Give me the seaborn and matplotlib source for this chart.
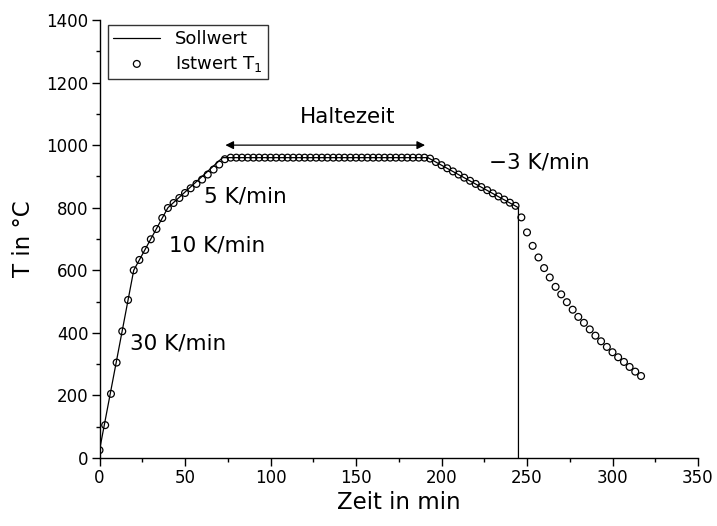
import matplotlib
matplotlib.use("Agg")
import matplotlib.pyplot as plt
import seaborn as sns
import pandas as pd

# Sollwert (setpoint) profile
soll_t = [0, 20, 40, 72, 192, 245, 245]
soll_T = [25, 600, 800, 960, 960, 800, 0]

# Istwert T1 (measured) points
ist_t = [0, 3.3, 6.7, 10, 13.3, 16.7, 20, 23.3, 26.7, 30, 33.3, 36.7, 40, 43.3, 46.7,
         50, 53.3, 56.7, 60, 63.3, 66.7, 70, 73.3, 76.7, 80, 83.3, 86.7, 90, 93.3, 96.7,
         100, 103.3, 106.7, 110, 113.3, 116.7, 120, 123.3, 126.7, 130, 133.3, 136.7, 140,
         143.3, 146.7, 150, 153.3, 156.7, 160, 163.3, 166.7, 170, 173.3, 176.7, 180, 183.3,
         186.7, 190, 193.3, 196.7, 200, 203.3, 206.7, 210, 213.3, 216.7, 220, 223.3, 226.7,
         230, 233.3, 236.7, 240, 243.3, 246.7, 250, 253.3, 256.7, 260, 263.3, 266.7, 270,
         273.3, 276.7, 280, 283.3, 286.7, 290, 293.3, 296.7, 300, 303.3, 306.7, 310, 313.3,
         316.7]
ist_T = [25, 105, 205, 305, 405, 505, 600, 633, 665, 699, 732, 767, 799, 815, 831,
         847, 862, 876, 890, 906, 922, 938, 955, 960, 960, 960, 960, 960, 960, 960,
         960, 960, 960, 960, 960, 960, 960, 960, 960, 960, 960, 960, 960,
         960, 960, 960, 960, 960, 960, 960, 960, 960, 960, 960, 960, 960,
         960, 960, 957, 946, 936, 926, 916, 906, 896, 886, 876, 866, 856,
         846, 836, 826, 816, 806, 769, 721, 678, 641, 607, 577, 547, 523,
         498, 474, 451, 432, 411, 391, 373, 355, 338, 322, 307, 291, 276,
         262]

xticks = [0, 50, 100, 150, 200, 250, 300, 350]
yticks = [0, 200, 400, 600, 800, 1000, 1200, 1400]

sns.set_theme(style="ticks")
plt.rcParams["font.family"] = ["DejaVu Sans"]
plt.rcParams["mathtext.fontset"] = "dejavusans"
plt.rcParams["text.color"] = "black"
plt.rcParams["axes.labelcolor"] = "black"
plt.rcParams["xtick.color"] = "black"
plt.rcParams["ytick.color"] = "black"

fig = plt.figure(figsize=(7.17, 5.26), dpi=100)
ax = fig.add_axes([0.1388, 0.1293, 0.8347, 0.8327])

soll = pd.DataFrame({"t": soll_t, "T": soll_T})
ist = pd.DataFrame({"t": ist_t, "T": ist_T})

sns.lineplot(data=soll, x="t", y="T", ax=ax, color="black", linewidth=0.9,
             sort=False, estimator=None, label="Sollwert")
sns.scatterplot(data=ist, x="t", y="T", ax=ax, marker="o", s=24,
                facecolor="none", edgecolor="black", linewidth=0.9,
                label="Istwert T$_\\mathrm{1}$")

ax.set_xlim(0, 350)
ax.set_ylim(0, 1400)
ax.set_xticks(xticks)
ax.set_yticks(yticks)
ax.set_xticks([25, 75, 125, 175, 225, 275, 325], minor=True)
ax.set_yticks([100, 300, 500, 700, 900, 1100, 1300], minor=True)
ax.tick_params(axis="both", which="major", direction="out", length=6, width=1,
               labelsize=12, colors="black", pad=2)
ax.tick_params(axis="both", which="minor", direction="out", length=3, width=1,
               colors="black")
ax.set_xlabel("Zeit in min", fontsize=16.5, color="black", labelpad=3)
ax.set_ylabel("T in °C", fontsize=16.5, color="black", labelpad=8)
for s in ["top", "right"]:
    ax.spines[s].set_visible(False)
for s in ["left", "bottom"]:
    ax.spines[s].set_color("black")
    ax.spines[s].set_linewidth(1)

# annotations
ax.annotate("", xy=(72, 1000), xytext=(192, 1000),
            arrowprops=dict(arrowstyle="<|-|>", color="black", lw=0.9,
                            mutation_scale=12))
ax.text(145, 1090, "Haltezeit", fontsize=15.5, ha="center", va="center", color="black")
ax.text(228, 943, "\u22123 K/min", fontsize=15.5, ha="left", va="center", color="black")
ax.text(61, 837, "5 K/min", fontsize=15.5, ha="left", va="center", color="black")
ax.text(40.5, 678, "10 K/min", fontsize=15.5, ha="left", va="center", color="black")
ax.text(17.8, 367, "30 K/min", fontsize=15.5, ha="left", va="center", color="black")

leg = ax.legend(loc="upper left", bbox_to_anchor=(0.014, 0.989), borderaxespad=0,
                fontsize=13, frameon=True, fancybox=False, edgecolor="black",
                handlelength=2.6, borderpad=0.3, labelspacing=0.3)
leg.get_frame().set_linewidth(1)
for txt in leg.get_texts():
    txt.set_color("black")

fig.savefig("out.png", dpi=100)
